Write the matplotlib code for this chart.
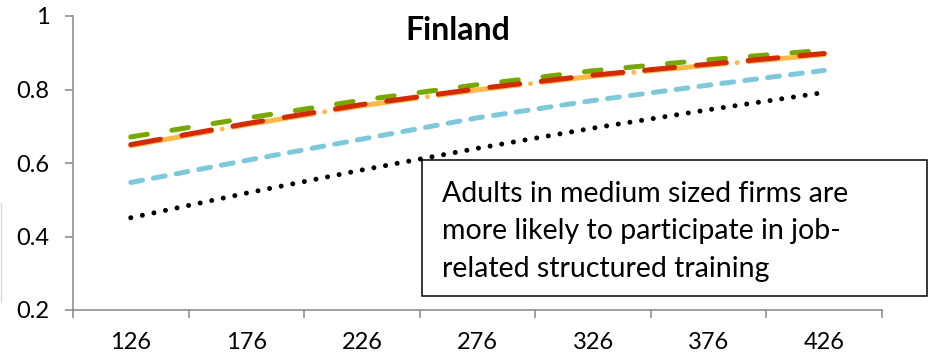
import matplotlib
matplotlib.use('Agg')
import matplotlib.pyplot as plt
from matplotlib.patches import Rectangle
from matplotlib.lines import Line2D
import numpy as np

plt.rcParams.update({
    'font.family': ['Lato', 'DejaVu Sans'],
    'lines.scale_dashes': False,
})

# Literacy score categories on the x axis
categories = ['126', '176', '226', '276', '326', '376', '426']

# Predicted participation probabilities per firm-size group
black_vals = [0.451, 0.518, 0.581, 0.640, 0.695, 0.745, 0.792]
blue_vals = [0.547, 0.607, 0.665, 0.723, 0.770, 0.812, 0.852]
green_vals = [0.671, 0.722, 0.771, 0.813, 0.851, 0.881, 0.907]
orange_vals = [0.647, 0.704, 0.756, 0.799, 0.836, 0.866, 0.895]
red_vals = [0.650, 0.707, 0.759, 0.802, 0.839, 0.869, 0.898]

y_ticks = [0.2, 0.4, 0.6, 0.8, 1.0]
y_labels = ['0.2', '0.4', '0.6', '0.8', '1']

title = 'Finland'
note_lines = ['Adults in medium sized firms are',
              'more likely to participate in job-',
              'related structured training']

W, H = 929, 356
fig = plt.figure(figsize=(W / 100, H / 100), dpi=100)
ax = fig.add_axes([73 / W, 46 / H, 809 / W, 294 / H])

x = np.arange(len(categories))
lw = 3.6
ax.plot(x, black_vals, color='black', lw=lw, ls=(0, (0.01, 8.5)),
        dash_capstyle='round', zorder=2)
ax.plot(x, blue_vals, color='#7EC8DC', lw=lw, ls=(0, (8.6, 8.0)),
        dash_capstyle='round', zorder=3)
ax.plot(x, green_vals, color='#77A800', lw=lw, ls=(0, (12, 18)),
        dash_capstyle='round', zorder=4)
# orange long-dash-dot sits under the red dashes, period = two red periods
ax.plot(x, orange_vals, color='#FDB94A', lw=lw, ls=(0, (59, 7.9, 0.01, 7.9)),
        dash_capstyle='round', zorder=5)
ax.plot(x, red_vals, color='#D42A00', lw=lw, ls=(0, (21.6, 15.8)),
        dash_capstyle='round', zorder=6)

ax.set_xlim(-0.5, len(categories) - 0.5)
ax.set_ylim(0.2, 1.0)

axis_grey = '#868686'
for side in ['top', 'right']:
    ax.spines[side].set_visible(False)
for side in ['left', 'bottom']:
    ax.spines[side].set_color(axis_grey)
    ax.spines[side].set_linewidth(1.1)

ax.set_yticks(y_ticks)
ax.set_yticklabels(y_labels)
ax.set_xticks(x)
ax.set_xticklabels(categories)
ax.set_xticks(np.arange(len(categories) + 1) - 0.5, minor=True)
ax.tick_params(axis='y', direction='out', length=5.8, width=1.1,
               color=axis_grey, labelsize=17, pad=11)
ax.tick_params(axis='x', which='major', length=0, labelsize=17, pad=16)
ax.tick_params(axis='x', which='minor', direction='out', length=5.8,
               width=1.1, color=axis_grey)

fig.text(458 / W, (H - 40) / H, title, fontsize=23, fontweight='bold',
         ha='center', va='baseline')

# Annotation box over the lower right of the plot
box = Rectangle((422 / W, (H - 296) / H), 505 / W, 136 / H,
                transform=fig.transFigure, facecolor='white',
                edgecolor='black', lw=1.1, zorder=5)
fig.patches.append(box)
for line, base in zip(note_lines, [202, 239.5, 277]):
    fig.text(442 / W, (H - base) / H, line, fontsize=20.5,
             ha='left', va='baseline', zorder=6)

# thin grey edge at the far left
fig.add_artist(Line2D([1 / W, 1 / W], [(H - 302) / H, (H - 203) / H],
                      transform=fig.transFigure, color='#D9D9D9', lw=1))

fig.savefig('out.png', dpi=100)
